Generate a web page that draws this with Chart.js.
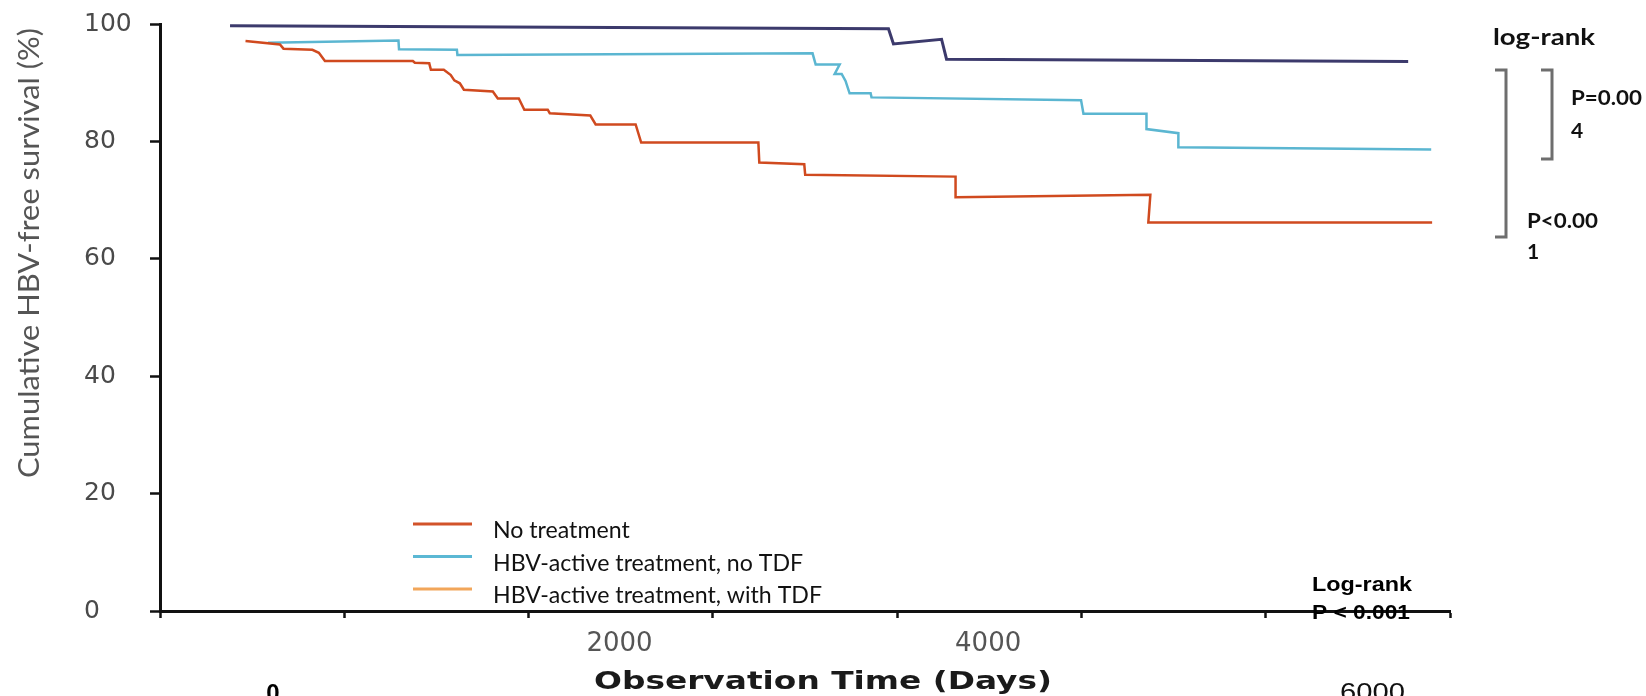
<!DOCTYPE html>
<html>
<head>
<meta charset="utf-8">
<script src="https://cdn.jsdelivr.net/npm/chart.js@4.4.0/dist/chart.umd.min.js"></script>
<style>
  html, body { margin: 0; padding: 0; background: #fff; overflow: hidden; }
  #wrap { position: relative; width: 1646px; height: 696px; }
</style>
</head>
<body>
<div id="wrap"><canvas id="km" width="1646" height="696"></canvas></div>
<script>
// series (days, % HBV-free)
var noTxDays = [464, 651, 670, 827, 862, 895, 1372, 1383, 1461, 1470, 1540, 1578, 1597, 1627, 1649, 1806, 1833,
  1947, 1977, 2104, 2115, 2335, 2364, 2581, 2611, 3247, 3252, 3496, 3501, 4317, 4317, 5374, 5363, 6903];
var noTxPct = [97.1, 96.5, 95.8, 95.6, 95.1, 93.7, 93.7, 93.4, 93.3, 92.2, 92.2, 91.3, 90.4, 89.9, 88.8, 88.5, 87.3,
  87.3, 85.4, 85.4, 84.8, 84.4, 82.9, 82.9, 79.8, 79.8, 76.4, 76.1, 74.3, 74.0, 70.5, 70.9, 66.2, 66.2];

var noTdfDays = [586, 1294, 1297, 1611, 1614, 3541, 3558, 3688, 3661, 3699, 3720, 3742, 3856, 3861, 4998, 5011,
  5353, 5353, 5526, 5526, 6898];
var noTdfPct = [96.8, 97.2, 95.7, 95.6, 94.7, 95.0, 93.1, 93.1, 91.5, 91.5, 90.3, 88.2, 88.2, 87.5, 87.0, 84.7,
  84.7, 82.1, 81.4, 79.0, 78.6];

var tdfDays = [380, 3953, 3980, 4241, 4268, 6773];
var tdfPct = [99.7, 99.2, 96.6, 97.4, 94.0, 93.6];

var seriesLabels = ['No treatment', 'HBV-active treatment, no TDF', 'HBV-active treatment, with TDF'];
var seriesColors = ['#D04A1F', '#5BB6D1', '#3C3A6C'];
var legendColors = ['#D2532A', '#5BB8D4', '#F2A65A'];

var xTickLabelValues = [2000, 4000];
var yTickStep = 20;

function pts(days, pct) {
  return days.map(function(d, i) { return { x: d, y: pct[i] }; });
}

function stretchText(ctx, text, x, y, font, color, width, align) {
  ctx.save();
  ctx.font = font;
  ctx.fillStyle = color;
  ctx.textBaseline = 'alphabetic';
  ctx.textAlign = align || 'left';
  var w = ctx.measureText(text).width;
  ctx.translate(x, y);
  ctx.scale(width ? width / w : 1, 1);
  ctx.fillText(text, 0, 0);
  ctx.restore();
}

var extras = {
  id: 'extras',
  afterDraw: function(chart) {
    var ctx = chart.ctx;

    // y title
    ctx.save();
    ctx.font = '29px Lato';
    var tw = ctx.measureText('Cumulative HBV-free survival (%)').width;
    ctx.translate(29.5, 253);
    ctx.rotate(-Math.PI / 2);
    ctx.scale(450 / tw, 1);
    ctx.fillStyle = '#555';
    ctx.textAlign = 'center';
    ctx.textBaseline = 'middle';
    ctx.fillText('Cumulative HBV-free survival (%)', 0, 0);
    ctx.restore();

    // x title and stray labels
    stretchText(ctx, 'Observation Time (Days)', 594, 689, 'bold 25px "DejaVu Sans"', '#1a1a1a', 458);
    stretchText(ctx, '0', 273, 701, 'bold 24px "Liberation Sans"', '#000', 0, 'center');
    stretchText(ctx, '6000', 1340, 700, '24px "Liberation Sans"', '#111', 65);
    stretchText(ctx, 'Log-rank', 1312, 591, 'bold 20px "Liberation Sans"', '#000', 100);
    stretchText(ctx, 'P < 0.001', 1312, 619, 'bold 20px "Liberation Sans"', '#000', 98);

    // right-hand log-rank annotation
    stretchText(ctx, 'log-rank', 1493, 45, 'bold 23px Lato', '#111', 102);
    stretchText(ctx, 'P=0.00', 1571, 105, 'bold 21px Lato', '#111', 71);
    stretchText(ctx, '4', 1571, 138, 'bold 21px Lato', '#111');
    stretchText(ctx, 'P<0.00', 1527, 228, 'bold 21px Lato', '#111', 71);
    stretchText(ctx, '1', 1527, 259, 'bold 21px Lato', '#111');

    ctx.save();
    ctx.strokeStyle = '#6e6e6e';
    ctx.lineWidth = 3;
    ctx.beginPath();
    ctx.moveTo(1495, 70); ctx.lineTo(1506, 70); ctx.lineTo(1506, 237); ctx.lineTo(1495, 237);
    ctx.moveTo(1541, 70); ctx.lineTo(1552, 70); ctx.lineTo(1552, 159); ctx.lineTo(1541, 159);
    ctx.stroke();
    ctx.restore();

    // legend
    ctx.save();
    ctx.font = '23px Lato';
    var sx = 329 / ctx.measureText(seriesLabels[2]).width;
    ctx.restore();
    seriesLabels.forEach(function(lab, i) {
      var ly = 524 + i * 32.5;
      ctx.save();
      ctx.strokeStyle = legendColors[i];
      ctx.lineWidth = 3;
      ctx.beginPath();
      ctx.moveTo(413, ly); ctx.lineTo(472, ly);
      ctx.stroke();
      ctx.font = '23px Lato';
      ctx.fillStyle = '#111';
      ctx.translate(493, ly + 14);
      ctx.scale(sx, 1);
      ctx.fillText(lab, 0, 0);
      ctx.restore();
    });
  }
};

new Chart(document.getElementById('km'), {
  type: 'line',
  data: {
    datasets: [
      { label: seriesLabels[0], data: pts(noTxDays, noTxPct), borderColor: seriesColors[0], borderWidth: 2.5 },
      { label: seriesLabels[1], data: pts(noTdfDays, noTdfPct), borderColor: seriesColors[1], borderWidth: 2.5 },
      { label: seriesLabels[2], data: pts(tdfDays, tdfPct), borderColor: seriesColors[2], borderWidth: 3 }
    ]
  },
  options: {
    responsive: false,
    animation: false,
    layout: { padding: { left: 84, top: 24, right: 196, bottom: 0 } },
    elements: { point: { radius: 0 }, line: { tension: 0, fill: false } },
    plugins: { legend: { display: false }, tooltip: { enabled: false } },
    scales: {
      x: {
        type: 'linear', min: 0, max: 7000,
        border: { color: '#111', width: 3 },
        grid: { drawOnChartArea: false, tickLength: 7, tickColor: '#111', tickWidth: 2.5 },
        ticks: {
          stepSize: 1000, autoSkip: false, maxRotation: 0, labelOffset: 91, padding: 11,
          color: '#555', font: { family: 'DejaVu Sans', size: 26 },
          callback: function(v) { return xTickLabelValues.indexOf(v) >= 0 ? String(v) : ''; }
        },
        afterFit: function(s) { s.height = 85; }
      },
      y: {
        min: 0, max: 100,
        border: { color: '#111', width: 3 },
        grid: { drawOnChartArea: false, tickLength: 10, tickColor: '#111', tickWidth: 2.5 },
        ticks: {
          stepSize: yTickStep, crossAlign: 'far', color: '#4a4a4a',
          font: { family: 'DejaVu Sans', size: 25 }
        },
        afterFit: function(s) { s.width = 76; }
      }
    }
  },
  plugins: [extras]
});
</script>
</body>
</html>
